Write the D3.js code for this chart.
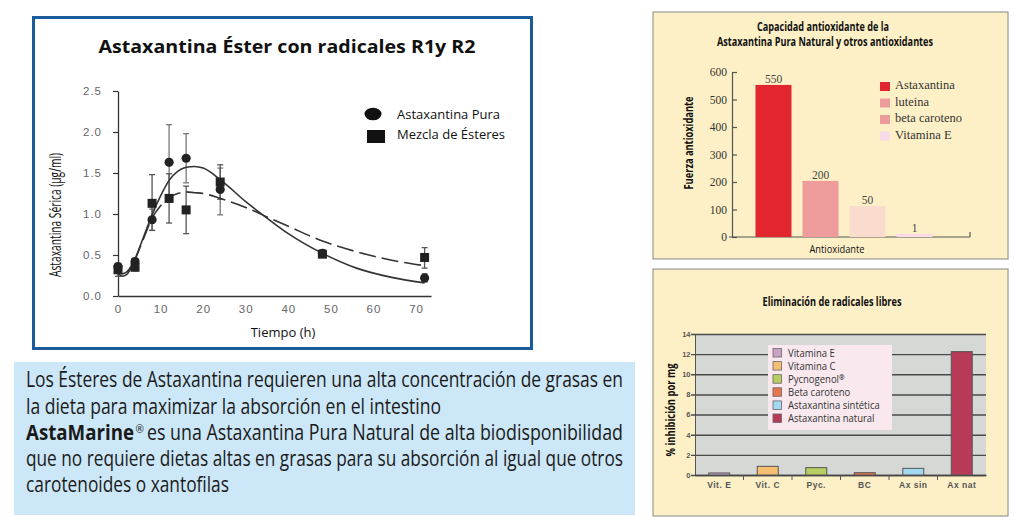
<!DOCTYPE html>
<html><head><meta charset="utf-8">
<script src="https://cdn.jsdelivr.net/npm/d3@7"></script>
<style>body{margin:0;background:#fff;} svg{display:block;}</style>
</head><body>
<svg id="c" width="1023" height="524"></svg>
<script>
// ---------------- DATA ----------------
// Chart 1: serum astaxanthin vs time
const times = [0, 4, 8, 12, 16, 24, 48, 72];
const pura = [0.36, 0.42, 0.93, 1.63, 1.68, 1.30, 0.52, 0.22];
const puraLo = [0.30, 0.36, 0.80, 1.17, 1.38, 0.99, 0.48, 0.17];
const puraHi = [0.40, 0.46, 1.06, 2.09, 1.98, 1.56, 0.56, 0.27];
const esteres = [0.32, 0.35, 1.13, 1.19, 1.05, 1.39, 0.51, 0.47];
const esteresLo = [0.24, 0.31, 0.80, 0.89, 0.76, 1.18, 0.48, 0.34];
const esteresHi = [0.38, 0.39, 1.48, 1.49, 1.34, 1.60, 0.55, 0.59];
const fitTimes = [0, 1, 2, 4, 6, 8, 10, 12, 14, 16, 18, 20, 24, 30, 36, 40, 48, 56, 64, 72];
const fitPura = [0.28, 0.24, 0.26, 0.45, 0.72, 0.99, 1.22, 1.41, 1.52, 1.57, 1.58, 1.56, 1.42, 1.15, 0.91, 0.76, 0.52, 0.34, 0.23, 0.16];
const fitEsteres = [0.30, 0.27, 0.29, 0.45, 0.70, 0.95, 1.10, 1.20, 1.25, 1.27, 1.26, 1.25, 1.19, 1.08, 0.94, 0.85, 0.67, 0.54, 0.44, 0.37];
const timeTicks = [0, 10, 20, 30, 40, 50, 60, 70];
const serumTicks = [0, 0.5, 1.0, 1.5, 2.0, 2.5];
const seriesNames = ['Astaxantina Pura', 'Mezcla de Ésteres'];

// Chart 2: antioxidant capacity
const antiCats = ['Astaxantina', 'luteina', 'beta caroteno', 'Vitamina E'];
const antiBars = [553, 204, 113, 11];
const antiLabels = ['550', '200', '50', '1'];
const antiTicks = [0, 100, 200, 300, 400, 500, 600];

// Chart 3: free radical elimination
const radCats = ['Vit. E', 'Vit. C', 'Pyc.', 'BC', 'Ax sin', 'Ax nat'];
const radNames = ['Vitamina E', 'Vitamina C', 'Pycnogenol', 'Beta caroteno', 'Astaxantina sintética', 'Astaxantina natural'];
const radValues = [0.20, 0.86, 0.73, 0.23, 0.66, 12.25];
const radTicks = [0, 2, 4, 6, 8, 10, 12, 14];

// Text block
const bodyLines = [
  'Los Ésteres de Astaxantina requieren una alta concentración de grasas en',
  'la dieta para maximizar la absorción en el intestino',
  'es una Astaxantina Pura Natural de alta biodisponibilidad',
  'que no requiere dietas altas en grasas para su absorción al igual que otros',
  'carotenoides o xantofilas'
];

// ---------------- DRAW ----------------
const svg = d3.select('#c');
const SANS = "'Open Sans', 'Noto Sans', sans-serif";
const SERIF = "'Liberation Serif', 'DejaVu Serif', serif";
const ARIAL = "'Liberation Sans', Arial, sans-serif";

function fitLen(sel, len) {
  sel.attr('textLength', len).attr('lengthAdjust', 'spacingAndGlyphs');
  return sel;
}
function condense(sel, f) {
  sel.each(function () {
    const w = this.getComputedTextLength();
    d3.select(this).attr('textLength', w * f).attr('lengthAdjust', 'spacingAndGlyphs');
  });
  return sel;
}

// ===== Panel 1 =====
svg.append('rect').attr('x', 33.5).attr('y', 17.5).attr('width', 498).attr('height', 331)
  .attr('fill', '#fff').attr('stroke', '#1a5b9c').attr('stroke-width', 3);

fitLen(svg.append('text').attr('x', 287).attr('y', 53).attr('text-anchor', 'middle')
  .attr('font-family', SANS).attr('font-weight', 700).attr('font-size', 18.5).attr('fill', '#111')
  .text('Astaxantina Éster con radicales R1y R2'), 377);

const x1 = d3.scaleLinear().domain([0, 73.5]).range([118, 431]);
const y1 = d3.scaleLinear().domain([0, 2.5]).range([296, 91]);

const ya1 = svg.append('g').attr('transform', 'translate(118,0)')
  .call(d3.axisLeft(y1).tickValues(serumTicks).tickFormat(d3.format('.1f')).tickSize(5).tickPadding(11).tickSizeOuter(0));
ya1.select('.domain').attr('stroke', '#333').attr('stroke-width', 1.3);
ya1.selectAll('.tick line').attr('stroke', '#333').attr('stroke-width', 1.2);
ya1.selectAll('text').attr('font-family', ARIAL).attr('font-size', 11.5).attr('fill', '#666').attr('letter-spacing', 1);

const xa1 = svg.append('g').attr('transform', 'translate(0,296)')
  .call(d3.axisBottom(x1).tickValues(timeTicks).tickSize(0).tickPadding(9).tickSizeOuter(0));
xa1.select('.domain').attr('stroke', '#333').attr('stroke-width', 1.3);
xa1.selectAll('text').attr('font-family', ARIAL).attr('font-size', 11.5).attr('fill', '#666').attr('letter-spacing', 1);

fitLen(svg.append('text').attr('transform', 'translate(61,215) rotate(-90)').attr('text-anchor', 'middle')
  .attr('font-family', SANS).attr('font-size', 15.5).attr('fill', '#111')
  .text('Astaxantina Sérica (µg/ml)'), 124);

svg.append('text').attr('x', 283).attr('y', 337).attr('text-anchor', 'middle')
  .attr('font-family', SANS).attr('font-size', 13).attr('fill', '#111').text('Tiempo (h)');

// error bars
function errBars(lo, hi, color) {
  const g = svg.append('g').attr('stroke', color).attr('stroke-width', 1.3);
  times.forEach((t, i) => {
    const cx = x1(t);
    g.append('line').attr('x1', cx).attr('x2', cx).attr('y1', y1(lo[i])).attr('y2', y1(hi[i]));
    g.append('line').attr('x1', cx - 3).attr('x2', cx + 3).attr('y1', y1(lo[i])).attr('y2', y1(lo[i]));
    g.append('line').attr('x1', cx - 3).attr('x2', cx + 3).attr('y1', y1(hi[i])).attr('y2', y1(hi[i]));
  });
}
errBars(puraLo, puraHi, '#777');
errBars(esteresLo, esteresHi, '#555');

const line1 = d3.line().x(d => x1(d[0])).y(d => y1(d[1])).curve(d3.curveMonotoneX);
svg.append('path').datum(fitTimes.map((t, i) => [t, fitPura[i]]))
  .attr('d', line1).attr('fill', 'none').attr('stroke', '#333').attr('stroke-width', 1.6);
svg.append('path').datum(fitTimes.map((t, i) => [t, fitEsteres[i]]))
  .attr('d', line1).attr('fill', 'none').attr('stroke', '#333').attr('stroke-width', 1.6)
  .attr('stroke-dasharray', '17,6');

svg.append('g').selectAll('circle').data(times).join('circle')
  .attr('cx', d => x1(d)).attr('cy', (d, i) => y1(pura[i])).attr('r', 4.6).attr('fill', '#222');
svg.append('g').selectAll('rect').data(times).join('rect')
  .attr('x', d => x1(d) - 4.5).attr('y', (d, i) => y1(esteres[i]) - 4.5)
  .attr('width', 9).attr('height', 9).attr('fill', '#222');

// legend
svg.append('ellipse').attr('cx', 373).attr('cy', 114).attr('rx', 8.5).attr('ry', 6.3).attr('fill', '#111');
svg.append('rect').attr('x', 367).attr('y', 130).attr('width', 18).attr('height', 13).attr('fill', '#111');
const legLens = [103, 108];
svg.append('g').selectAll('text').data(seriesNames).join('text')
  .attr('x', 397).attr('y', (d, i) => 118.5 + i * 20.5)
  .attr('font-family', SANS).attr('font-size', 13.5).attr('fill', '#111').text(d => d)
  .attr('textLength', (d, i) => legLens[i]).attr('lengthAdjust', 'spacingAndGlyphs');

// ===== Text block =====
svg.append('rect').attr('x', 14).attr('y', 362).attr('width', 621).attr('height', 153).attr('fill', '#cce7f7');
const lineBase = [387, 414, 440, 466, 492];
const lineX = [26, 26, 147, 26, 26];
const lineLens = [597, 415, 476, 597, 203];
bodyLines.forEach((s, i) => {
  const t = svg.append('text').attr('x', lineX[i]).attr('y', lineBase[i])
    .attr('font-family', SANS).attr('font-size', 21).attr('fill', '#1a1a1a').text(s);
  fitLen(t, lineLens[i]);
});
fitLen(svg.append('text').attr('x', 26).attr('y', 440).attr('font-family', SANS).attr('font-weight', 700)
  .attr('font-size', 21).attr('fill', '#1a1a1a').text('AstaMarine'), 108);
svg.append('text').attr('x', 135.5).attr('y', 433).attr('font-family', SANS)
  .attr('font-size', 10).attr('fill', '#1a1a1a').text('®');

// ===== Panel 2 =====
svg.append('rect').attr('x', 653).attr('y', 12).attr('width', 355).attr('height', 247)
  .attr('fill', '#fdf0c6').attr('stroke', '#9a9a9a').attr('stroke-width', 1.2);
fitLen(svg.append('text').attr('x', 823).attr('y', 31).attr('text-anchor', 'middle')
  .attr('font-family', SANS).attr('font-weight', 700).attr('font-size', 11.5).attr('fill', '#111')
  .text('Capacidad antioxidante de la'), 132);
fitLen(svg.append('text').attr('x', 825).attr('y', 46).attr('text-anchor', 'middle')
  .attr('font-family', SANS).attr('font-weight', 700).attr('font-size', 11.5).attr('fill', '#111')
  .text('Astaxantina Pura Natural y otros antioxidantes'), 216);

const x2 = d3.scalePoint().domain(antiCats).range([750, 938]).padding(0.5);
const y2 = d3.scaleLinear().domain([0, 600]).range([237, 72]);
const color2 = d3.scaleOrdinal().domain(antiCats).range(['#e1262f', '#ee9b9c', '#f9dcce', '#f7dbe6']);
const legend2 = d3.scaleOrdinal().domain(antiCats).range(['#e1262f', '#ee9b9c', '#ee9b9c', '#f7dbe6']);

const ya2 = svg.append('g').attr('transform', 'translate(732,0)')
  .call(d3.axisLeft(y2).tickValues(antiTicks).tickSize(-5).tickPadding(5).tickSizeOuter(0));
ya2.select('.domain').attr('stroke', '#555').attr('stroke-width', 1.2);
ya2.selectAll('.tick line').attr('stroke', '#555').attr('stroke-width', 1.2);
ya2.selectAll('text').attr('font-family', SERIF).attr('font-size', 11.5).attr('fill', '#333');
svg.append('line').attr('x1', 729).attr('x2', 970).attr('y1', 237).attr('y2', 237).attr('stroke', '#555').attr('stroke-width', 1.2);
svg.append('line').attr('x1', 970).attr('x2', 970).attr('y1', 232).attr('y2', 237).attr('stroke', '#555').attr('stroke-width', 1.2);

svg.append('g').selectAll('rect').data(antiCats).join('rect')
  .attr('x', d => x2(d) - 18).attr('width', 36)
  .attr('y', (d, i) => y2(antiBars[i])).attr('height', (d, i) => 237 - y2(antiBars[i]))
  .attr('fill', d => color2(d));
svg.append('g').selectAll('text').data(antiCats).join('text')
  .attr('x', d => x2(d)).attr('y', (d, i) => y2(antiBars[i]) - 2).attr('text-anchor', 'middle')
  .attr('font-family', SERIF).attr('font-size', 11.5).attr('fill', '#444').text((d, i) => antiLabels[i]);

const lg2 = svg.append('g');
antiCats.forEach((c, i) => {
  lg2.append('rect').attr('x', 880).attr('y', 82 + i * 16.5).attr('width', 10).attr('height', 9).attr('fill', legend2(c));
  lg2.append('text').attr('x', 895).attr('y', 89 + i * 16.5).attr('font-family', SERIF).attr('font-size', 12.5)
    .attr('fill', '#333').text(c);
});

fitLen(svg.append('text').attr('transform', 'translate(693,143) rotate(-90)').attr('text-anchor', 'middle')
  .attr('font-family', SANS).attr('font-weight', 700).attr('font-size', 13).attr('fill', '#111')
  .text('Fuerza antioxidante'), 93);
fitLen(svg.append('text').attr('x', 837).attr('y', 253).attr('text-anchor', 'middle')
  .attr('font-family', SANS).attr('font-size', 11.5).attr('fill', '#111').text('Antioxidante'), 55);

// ===== Panel 3 =====
svg.append('rect').attr('x', 653).attr('y', 269).attr('width', 355).attr('height', 247)
  .attr('fill', '#fdf0c6').attr('stroke', '#9a9a9a').attr('stroke-width', 1.2);
fitLen(svg.append('text').attr('x', 832).attr('y', 306).attr('text-anchor', 'middle')
  .attr('font-family', SANS).attr('font-weight', 700).attr('font-size', 12).attr('fill', '#111')
  .text('Eliminación de radicales libres'), 139);

const x3 = d3.scaleBand().domain(radCats).range([695, 986]);
const y3 = d3.scaleLinear().domain([0, 14]).range([475, 334]);
const color3 = d3.scaleOrdinal().domain(radCats).range(['#c9a3c6', '#f6bf72', '#b7cf62', '#e8764c', '#a3d8f1', '#b83a57']);

svg.append('rect').attr('x', 695).attr('y', 334).attr('width', 291).attr('height', 141).attr('fill', '#d6d8d6');
const ya3 = svg.append('g').attr('transform', 'translate(695,0)')
  .call(d3.axisLeft(y3).tickValues(radTicks).tickSize(-291).tickPadding(4.5).tickSizeOuter(0));
ya3.select('.domain').attr('stroke', '#555').attr('stroke-width', 1);
ya3.selectAll('.tick line').attr('stroke', '#4a4a4a').attr('stroke-width', 1.4).attr('x1', -4);
ya3.selectAll('text').attr('font-family', ARIAL).attr('font-weight', 700).attr('font-size', 7.5).attr('fill', '#555');

const xa3 = svg.append('g').attr('transform', 'translate(0,475)')
  .call(d3.axisBottom(x3).tickSize(0).tickPadding(7).tickSizeOuter(0));
xa3.select('.domain').attr('stroke', '#444').attr('stroke-width', 1.4);
xa3.selectAll('text').attr('font-family', ARIAL).attr('font-weight', 700).attr('font-size', 8.5)
  .attr('fill', '#555').attr('letter-spacing', 0.5);
svg.append('g').selectAll('line').data(radCats.slice(1)).join('line')
  .attr('x1', d => x3(d)).attr('x2', d => x3(d)).attr('y1', 475).attr('y2', 480)
  .attr('stroke', '#555').attr('stroke-width', 1);

svg.append('g').selectAll('rect').data(radCats).join('rect')
  .attr('x', d => x3(d) + x3.bandwidth() / 2 - 10.5).attr('width', 21)
  .attr('y', (d, i) => y3(radValues[i])).attr('height', (d, i) => 475 - y3(radValues[i]))
  .attr('fill', d => color3(d)).attr('stroke', '#555').attr('stroke-width', 1);

svg.append('rect').attr('x', 768).attr('y', 345).attr('width', 124).attr('height', 85).attr('fill', '#f9e8ee');
const lg3 = svg.append('g');
radCats.forEach((c, i) => {
  lg3.append('rect').attr('x', 773).attr('y', 348.5 + i * 13.1).attr('width', 8.5).attr('height', 8.5)
    .attr('fill', color3(c)).attr('stroke', '#666').attr('stroke-width', 0.8);
  const t = lg3.append('text').attr('x', 788).attr('y', 356.5 + i * 13.1).attr('font-family', SANS)
    .attr('font-size', 10).attr('fill', '#333').text(radNames[i]);
  if (i === 2) t.append('tspan').attr('font-size', 7).attr('dy', -3).attr('font-weight', 700).text('®');
  condense(t, 0.95);
});

fitLen(svg.append('text').attr('transform', 'translate(674.5,410) rotate(-90)').attr('text-anchor', 'middle')
  .attr('font-family', SANS).attr('font-weight', 700).attr('font-size', 12.5).attr('fill', '#111')
  .text('% inhibición por mg'), 93);
</script>
</body></html>
